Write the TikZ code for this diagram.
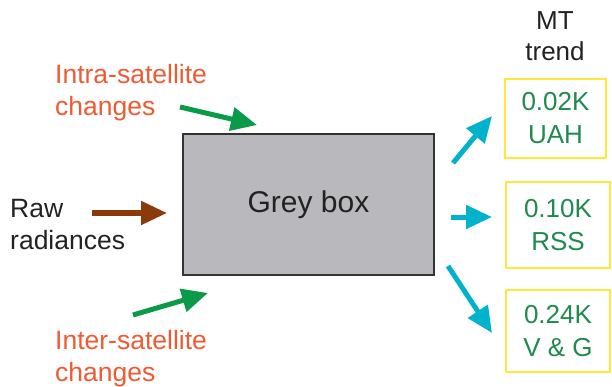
\documentclass[tikz,border=0pt]{standalone}
\usepackage{fontspec}
\setmainfont{Liberation Sans}
\usetikzlibrary{arrows.meta}
\definecolor{greyfill}{HTML}{B9B9BD}
\definecolor{greyedge}{HTML}{333333}
\definecolor{labred}{HTML}{F05A32}
\definecolor{arrgreen}{HTML}{0A9A48}
\definecolor{arrbrown}{HTML}{8B3A0A}
\definecolor{arrcyan}{HTML}{00B2CC}
\definecolor{boxyellow}{HTML}{FFE83C}
\definecolor{txtgreen}{HTML}{1E8A4C}
\definecolor{txtdark}{HTML}{222222}
\begin{document}
\begin{tikzpicture}[x=1pt,y=-1pt,
  lbl/.style={inner sep=0pt,align=left,anchor=north west,font=\fontsize{26.5}{32}\selectfont},
  trendbox/.style={draw=boxyellow,line width=2pt,minimum width=101pt,minimum height=80pt,inner sep=0pt,align=center,text=txtgreen,font=\fontsize{26}{33}\selectfont},
  fatarrow/.style={line width=5pt,-{Triangle[length=26pt,width=23pt]}}]
\useasboundingbox (0,0) rectangle (612,387);
\node[draw=greyedge,fill=greyfill,line width=2pt,minimum width=251pt,minimum height=141pt,inner sep=0pt,
  font=\fontsize{30}{36}\selectfont,text=txtdark] (grey) at (308.5,204.5) {Grey box};
\node[lbl,text=labred] (intra) at (55,64) {Intra-satellite\\changes};
\node[lbl,text=labred] (inter) at (55,330) {Inter-satellite\\changes};
\node[lbl,text=txtdark] (raw) at (10,199) {Raw\\radiances};
\node[inner sep=0pt,align=center,text=txtdark,font=\fontsize{26}{31}\selectfont] (mt) at (555,36) {MT\\trend};
\node[trendbox,minimum height=79pt] (uah) at (555.5,118.5) {0.02K\\UAH};
\node[trendbox,minimum height=86pt,minimum width=104pt] (rss) at (558,225) {0.10K\\RSS};
\node[trendbox,minimum height=82pt,minimum width=104pt] (vg) at (558,331) {0.24K\\V \& G};
\coordinate (a1s) at (180,107); \coordinate (a1e) at (257,125);
\coordinate (a2s) at (133,315); \coordinate (a2e) at (208,293);
\coordinate (a3s) at (92,213);  \coordinate (a3e) at (167,213);
\coordinate (c1s) at (453,163); \coordinate (c1e) at (492,116);
\coordinate (c2s) at (451,217); \coordinate (c2e) at (492,217);
\coordinate (c3s) at (448,266); \coordinate (c3e) at (492,333);
\draw[fatarrow,arrgreen] (a1s) -- (a1e);
\draw[fatarrow,arrgreen] (a2s) -- (a2e);
\draw[fatarrow,arrbrown] (a3s) -- (a3e);
\draw[fatarrow,arrcyan] (c1s) -- (c1e);
\draw[fatarrow,arrcyan] (c2s) -- (c2e);
\draw[fatarrow,arrcyan] (c3s) -- (c3e);
\end{tikzpicture}
\end{document}
